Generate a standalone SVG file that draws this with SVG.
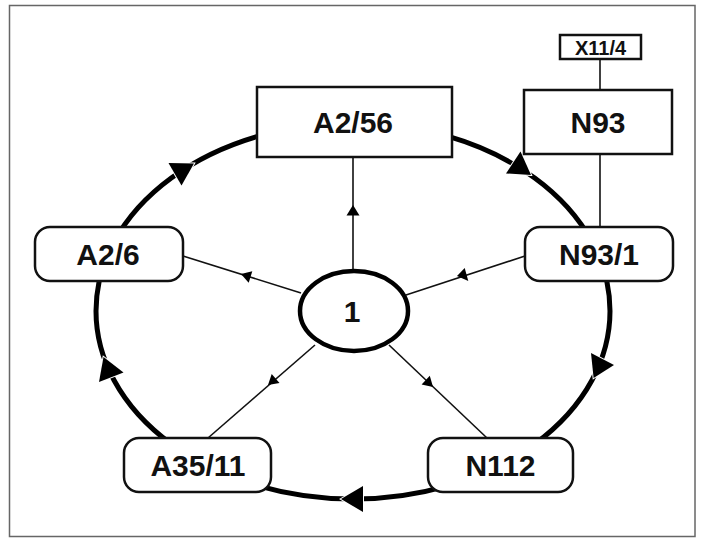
<svg xmlns="http://www.w3.org/2000/svg" width="702" height="538" viewBox="0 0 702 538">
<style>
.box{fill:#fff;stroke:#111;stroke-width:2.5}
.lbl{font-family:"Liberation Sans",Arial,sans-serif;font-weight:bold;font-size:30px;fill:#111;text-anchor:middle}
.small{font-size:20px}
.spoke{stroke:#111;stroke-width:1.6;fill:none}
.loop{stroke:#000;stroke-width:5;fill:none}
.bigarr{fill:#000;stroke:#fff;stroke-width:2;paint-order:stroke}
.smallarr{fill:#000;stroke:none}
</style>
<rect x="9.5" y="5.5" width="685.5" height="531" fill="#fff" stroke="#666" stroke-width="1.5"/>
<g id="connectors">
  <ellipse class="loop" cx="353" cy="311" rx="257" ry="188"/>
  <polygon class="bigarr" points="194,163.5 181.5,185.5 168.5,163"/>
  <polygon class="bigarr" points="531,175 506,173.5 520.5,151.5"/>
  <polygon class="bigarr" points="593.6,378 614,365 591,353"/>
  <polygon class="bigarr" points="341,499 363,486 363,512"/>
  <polygon class="bigarr" points="103.5,357 123.5,372.5 99,382"/>
  <line class="spoke" x1="600" y1="59" x2="600" y2="90"/>
  <line class="spoke" x1="600" y1="154" x2="600" y2="227"/>
  <line class="spoke" x1="353" y1="271" x2="353" y2="157"/>
  <polygon class="smallarr" points="353,205 359.5,215.5 346.5,215.5"/>
  <line class="spoke" x1="301" y1="293" x2="183" y2="256"/>
  <polygon class="smallarr" points="241,274 252.3,271.3 248.7,282.7"/>
  <line class="spoke" x1="406" y1="295" x2="525" y2="256"/>
  <polygon class="smallarr" points="457,276 468.3,281 464.7,268"/>
  <line class="spoke" x1="315" y1="345" x2="208" y2="438"/>
  <polygon class="smallarr" points="268,385 279.5,383 271.7,374"/>
  <line class="spoke" x1="389" y1="345" x2="487" y2="438"/>
  <polygon class="smallarr" points="433,387 421.6,384.6 429.8,375.8"/>
</g>
<g id="node-x11-4">
  <rect class="box" x="560" y="35" width="81" height="24" stroke-width="2"/>
  <text class="lbl small" x="600.5" y="54.5">X11/4</text>
</g>
<g id="node-n93">
  <rect class="box" x="524" y="90" width="148" height="64"/>
  <text class="lbl" x="598" y="133">N93</text>
</g>
<g id="node-a2-56">
  <rect class="box" x="257" y="87" width="195" height="70"/>
  <text class="lbl" x="353" y="133">A2/56</text>
</g>
<g id="node-a2-6">
  <rect class="box" x="35" y="227" width="148" height="54" rx="15"/>
  <text class="lbl" x="108" y="265">A2/6</text>
</g>
<g id="node-n93-1">
  <rect class="box" x="525" y="227" width="148" height="54" rx="15"/>
  <text class="lbl" x="599" y="265">N93/1</text>
</g>
<g id="node-1">
  <ellipse cx="354" cy="311" rx="54" ry="40" fill="#fff" stroke="#000" stroke-width="4.5"/>
  <text class="lbl" x="352" y="322">1</text>
</g>
<g id="node-a35-11">
  <rect class="box" x="124" y="438" width="147" height="54" rx="15"/>
  <text class="lbl" x="198" y="476">A35/11</text>
</g>
<g id="node-n112">
  <rect class="box" x="428" y="438" width="145" height="54" rx="15"/>
  <text class="lbl" x="500.5" y="476">N112</text>
</g>
</svg>
